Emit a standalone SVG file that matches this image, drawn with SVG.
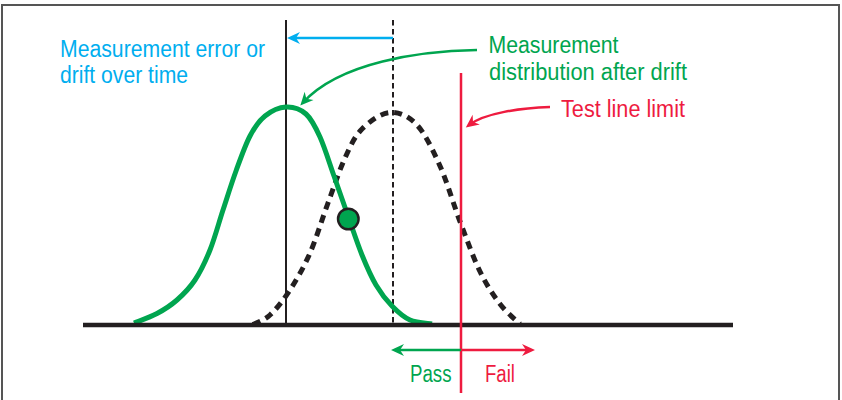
<svg xmlns="http://www.w3.org/2000/svg" width="842" height="400" viewBox="0 0 842 400">
<style>
  text { font-family: "Liberation Sans", Arial, sans-serif; font-size: 23px; }
  .blue { fill: #00AEEF; }
  .green { fill: #00A54F; }
  .red { fill: #EE1B3F; }
  .conn { fill: none; stroke-width: 2.5; }
</style>
<defs>
  <marker id="ahBlue" markerUnits="userSpaceOnUse" orient="auto" refX="0" refY="0" markerWidth="30" markerHeight="30" overflow="visible">
    <path d="M4,0 L-9,-6 L-5,0 L-9,6 Z" fill="#00AEEF"/>
  </marker>
  <marker id="ahGreen" markerUnits="userSpaceOnUse" orient="auto" refX="0" refY="0" markerWidth="30" markerHeight="30" overflow="visible">
    <path d="M4,0 L-9,-6 L-5,0 L-9,6 Z" fill="#00A54F"/>
  </marker>
  <marker id="ahRed" markerUnits="userSpaceOnUse" orient="auto" refX="0" refY="0" markerWidth="30" markerHeight="30" overflow="visible">
    <path d="M4,0 L-9,-6 L-5,0 L-9,6 Z" fill="#EE1B3F"/>
  </marker>
</defs>
<rect width="842" height="400" fill="#ffffff"/>
<rect id="frame" x="2" y="5" width="837" height="420" fill="none" stroke="#555555" stroke-width="2"/>

<g id="reference-lines">
  <line x1="286" y1="20" x2="286" y2="325" stroke="#231F20" stroke-width="2"/>
  <line x1="393" y1="20" x2="393" y2="325" stroke="#231F20" stroke-width="2" stroke-dasharray="5.5 3.5"/>
</g>

<g id="before-drift-curve">
  <path d="M253,324.5 C255.83,322.92 263.83,320.75 270,315 C276.17,309.25 283.33,300.33 290,290 C296.67,279.67 303.67,267.5 310,253 C316.33,238.5 322.17,218.83 328,203 C333.83,187.17 339.33,170.33 345,158 C350.67,145.67 354.5,136.58 362,129 C369.5,121.42 380.83,113.17 390,112.5 C399.17,111.83 408.67,116.08 417,125 C425.33,133.92 432.83,149.92 440,166 C447.17,182.08 453.33,203.92 460,221.5 C466.67,239.08 473.33,257.75 480,271.5 C486.67,285.25 493.33,295.25 500,304 C506.67,312.75 516.67,320.67 520,324" fill="none" stroke="#231F20" stroke-width="5" stroke-dasharray="8 6"/>
</g>

<g id="after-drift-curve">
  <path d="M134,323 C137.83,321.42 149.83,317.33 157,313.5 C164.17,309.67 170.67,305.58 177,300 C183.33,294.42 189.5,288.33 195,280 C200.5,271.67 205.33,261.67 210,250 C214.67,238.33 218.67,223.17 223,210 C227.33,196.83 231.5,183.33 236,171 C240.5,158.67 245.17,145.17 250,136 C254.83,126.83 259,120.83 265,116 C271,111.17 279.17,107.33 286,107 C292.83,106.67 300.33,109 306,114 C311.67,119 315.33,126.67 320,137 C324.67,147.33 329.33,162.83 334,176 C338.67,189.17 343.33,202.83 348,216 C352.67,229.17 357.33,243.5 362,255 C366.67,266.5 371,276.5 376,285 C381,293.5 386.33,300.17 392,306 C397.67,311.83 403.33,317 410,320 C416.67,323 428.33,323.33 432,324" fill="none" stroke="#00A54F" stroke-width="5"/>
</g>

<g id="baseline">
  <line x1="83" y1="325" x2="733" y2="325" stroke="#231F20" stroke-width="4.5"/>
</g>

<g id="test-line">
  <line x1="461" y1="73" x2="461" y2="393" stroke="#EE1B3F" stroke-width="2.5"/>
</g>

<g id="marker-dot">
  <circle cx="348.3" cy="219" r="10.3" fill="#00A54F" stroke="#231F20" stroke-width="2.4"/>
</g>

<g id="connectors">
  <path class="conn" d="M393,38 L291,38" stroke="#00AEEF" marker-end="url(#ahBlue)"/>
  <path class="conn" d="M477,50 C420,51 340,62 303,102.5" stroke="#00A54F" marker-end="url(#ahGreen)"/>
  <path class="conn" d="M550,107 C520,108 485,113 469,125" stroke="#EE1B3F" marker-end="url(#ahRed)"/>
  <path class="conn" d="M461,350 L395,350" stroke="#00A54F" marker-end="url(#ahGreen)"/>
  <path class="conn" d="M461,350 L531,350" stroke="#EE1B3F" marker-end="url(#ahRed)"/>
</g>

<g id="label-error">
  <text class="blue" x="60" y="57" textLength="205" lengthAdjust="spacingAndGlyphs">Measurement error or</text>
  <text class="blue" x="60" y="83" textLength="128" lengthAdjust="spacingAndGlyphs">drift over time</text>
</g>
<g id="label-distribution">
  <text class="green" x="488.5" y="53.3" textLength="130" lengthAdjust="spacingAndGlyphs">Measurement</text>
  <text class="green" x="489" y="79.5" textLength="198" lengthAdjust="spacingAndGlyphs">distribution after drift</text>
</g>
<g id="label-test">
  <text class="red" x="561" y="116.7" textLength="124" lengthAdjust="spacingAndGlyphs">Test line limit</text>
</g>
<g id="label-pass">
  <text class="green" x="410" y="381.7" textLength="41.5" lengthAdjust="spacingAndGlyphs">Pass</text>
</g>
<g id="label-fail">
  <text class="red" x="485" y="381.7" textLength="30" lengthAdjust="spacingAndGlyphs">Fail</text>
</g>
</svg>
